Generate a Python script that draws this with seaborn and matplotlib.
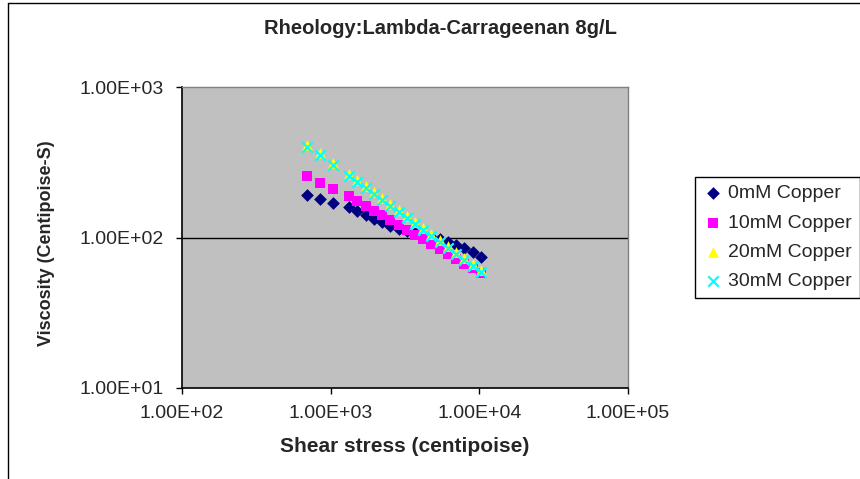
import matplotlib
matplotlib.use('Agg')
import matplotlib.pyplot as plt
from matplotlib.lines import Line2D
from matplotlib.ticker import FixedLocator, FuncFormatter, NullLocator
import seaborn as sns

# data
shear_stress = [693, 847, 1041, 1330, 1510, 1720, 1950, 2220, 2520, 2860,
                3250, 3690, 4190, 4760, 5410, 6150, 6980, 7930, 9010, 10200]
visc_0mM = [191, 179, 170, 159.8, 149.6, 140.7, 131.8, 125.9, 119.8, 114.4,
            110.1, 106.5, 103.5, 100.5, 97.5, 94, 89.5, 85, 80, 74]
visc_10mM = [256, 231, 209, 188.3, 174.9, 162.5, 151.0, 140.3, 130.4, 121.1,
             112.3, 104.4, 97.0, 90.1, 83.7, 77.8, 72.3, 67.1, 62.3, 57.9]
visc_20mM = [410, 362, 312, 264, 241, 220, 201, 183, 167, 152,
             139, 127, 116, 105.5, 96.3, 87.8, 80.1, 73.1, 66.5, 60.8]
visc_30mM = [398, 352, 303, 256.9, 234.4, 213.8, 195.1, 177.9, 162.3, 148.1,
             135.0, 123.2, 112.3, 102.5, 93.5, 85.3, 77.8, 71.0, 64.6, 59.0]
labels = ['0mM Copper', '10mM Copper', '20mM Copper', '30mM Copper']
x_ticks = [1e2, 1e3, 1e4, 1e5]
y_ticks = [1e1, 1e2, 1e3]

sns.set_theme(style='white')
plt.rcParams['font.family'] = ['Liberation Sans', 'DejaVu Sans']

fig = plt.figure(figsize=(8.6, 4.79), dpi=100)
fig.patch.set_facecolor('white')
ax = fig.add_axes([182/860, 91/479, 446/860, 301/479])
ax.set_facecolor('#C0C0C0')

# gridline at 1e2
ax.axhline(100, color='black', lw=1, zorder=1)

styles = [
    (visc_0mM, 'D', '#000080', 42, 0),
    (visc_10mM, 's', '#FF00FF', 56, 0),
    (visc_20mM, '^', '#FFFF00', 60, 0),
    (visc_30mM, 'x', '#00FFFF', 56, 1.6),
]
for (vals, mk, col, size, lw), lab in zip(styles, labels):
    if mk == 'x':
        sns.scatterplot(x=shear_stress, y=vals, marker=mk, color=col, s=size,
                        linewidth=lw, label=lab, ax=ax, zorder=3)
    else:
        sns.scatterplot(x=shear_stress, y=vals, marker=mk, color=col, s=size,
                        edgecolor=col, linewidth=lw, label=lab, ax=ax, zorder=3)

ax.set_xscale('log')
ax.set_yscale('log')
ax.set_xlim(1e2, 1e5)
ax.set_ylim(1e1, 1e3)
ax.xaxis.set_major_locator(FixedLocator(x_ticks))
ax.yaxis.set_major_locator(FixedLocator(y_ticks))
ax.xaxis.set_minor_locator(NullLocator())
ax.yaxis.set_minor_locator(NullLocator())
fmt = FuncFormatter(lambda v, p: f'{v:.2E}')
ax.xaxis.set_major_formatter(fmt)
ax.yaxis.set_major_formatter(fmt)
ax.tick_params(axis='both', direction='out', length=4, width=1, color='black',
               labelsize=14, bottom=True, left=True)
ax.tick_params(axis='x', pad=8)
ax.tick_params(axis='y', pad=9)

for side in ['left', 'bottom']:
    ax.spines[side].set_color('black')
    ax.spines[side].set_linewidth(1.2)
for side in ['top', 'right']:
    ax.spines[side].set_color('#808080')
    ax.spines[side].set_linewidth(1)

ax.set_xlabel('')
ax.set_ylabel('')
ax.get_legend().remove()

fig.text(440/860, 1 - 29/479, 'Rheology:Lambda-Carrageenan 8g/L',
         ha='center', va='center', fontsize=14.5, fontweight='bold')
fig.text(405/860, 1 - 447/479, 'Shear stress (centipoise)',
         ha='center', va='center', fontsize=15, fontweight='bold')
fig.text(47/860, 1 - 243/479, 'Viscosity (Centipoise-S)', rotation=90,
         ha='center', va='center', fontsize=13, fontweight='bold')

handles, _ = ax.get_legend_handles_labels()
leg = fig.legend(handles, labels, loc='upper left',
                 bbox_to_anchor=(695/860, 1 - 177/479), fontsize=14,
                 frameon=True, fancybox=False, edgecolor='black', framealpha=1,
                 borderpad=0.4, handletextpad=0.3, handlelength=1.0,
                 labelspacing=0.6, borderaxespad=0)
leg.get_frame().set_linewidth(1)

# outer chart border (left and top edges visible)
fig.add_artist(Line2D([8/860, 8/860], [0, 1 - 3/479], transform=fig.transFigure,
                      color='black', lw=1))
fig.add_artist(Line2D([8/860, 1], [1 - 3/479, 1 - 3/479], transform=fig.transFigure,
                      color='black', lw=1))

fig.savefig('out.png', dpi=100)
